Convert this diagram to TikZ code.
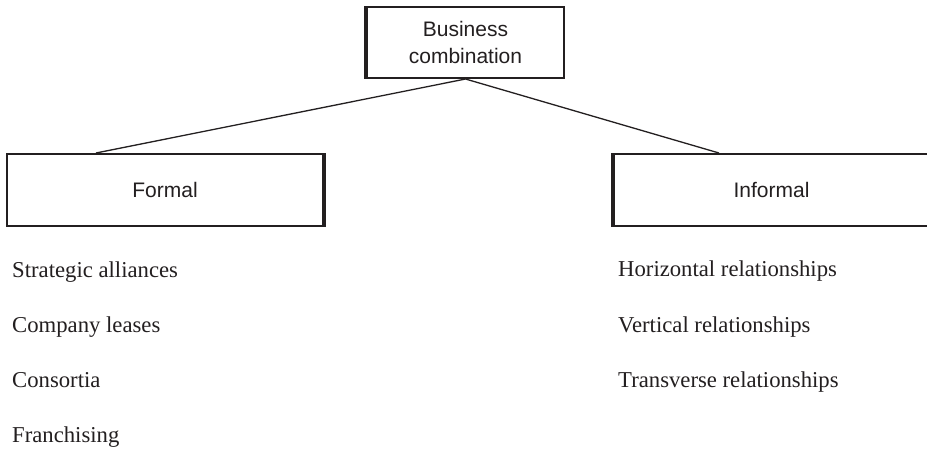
\documentclass[tikz,border=0pt]{standalone}
\usepackage{fontspec}
\setmainfont{Liberation Serif}
\newfontfamily\boxfont{Liberation Sans}
\usetikzlibrary{calc}
\definecolor{ink}{HTML}{231F20}
\tikzset{
  catbox/.style={draw=ink, line width=2pt, inner sep=0pt, align=center,
    font=\boxfont\fontsize{21}{27}\selectfont, text=ink},
  heavyedge/.style={draw=ink, line width=3.6pt},
  link/.style={draw=ink, line width=1.3pt},
  item/.style={anchor=base west, inner sep=0pt, text=ink,
    font=\fontsize{22.7}{27}\selectfont}
}
\begin{document}
\begin{tikzpicture}[x=1pt,y=-1pt]
  \useasboundingbox (0,0) rectangle (927,451);
  \clip (0,0) rectangle (927,451);
  \fill[white] (0,0) rectangle (927,451);

  % category boxes
  \node[catbox, minimum width=197pt, minimum height=71pt] (top) at (465.5,42.5)
    {Business\\combination};
  \node[catbox, minimum width=316pt, minimum height=72pt] (formal) at (165,190) {Formal};
  \node[catbox, minimum width=315pt, minimum height=72pt] (informal) at (771.5,190) {Informal};

  % heavier side edges
  \draw[heavyedge] (top.north west) -- (top.south west);
  \draw[heavyedge] (formal.north east) -- (formal.south east);
  \draw[heavyedge] (informal.north west) -- (informal.south west);

  % connectors
  \coordinate (fjoin) at ([xshift=90pt]formal.north west);
  \coordinate (ijoin) at ([xshift=106pt]informal.north west);
  \draw[link] (top.south) -- (fjoin);
  \draw[link] (top.south) -- (ijoin);

  % formal forms
  \node[item] (f1) at (12,277) {Strategic alliances};
  \node[item] (f2) at (12,332) {Company leases};
  \node[item] (f3) at (12,387) {Consortia};
  \node[item] (f4) at (12,442) {Franchising};

  % informal forms
  \node[item] (i1) at (618,276) {Horizontal relationships};
  \node[item] (i2) at (618,332) {Vertical relationships};
  \node[item] (i3) at (618,387) {Transverse relationships};
\end{tikzpicture}
\end{document}
